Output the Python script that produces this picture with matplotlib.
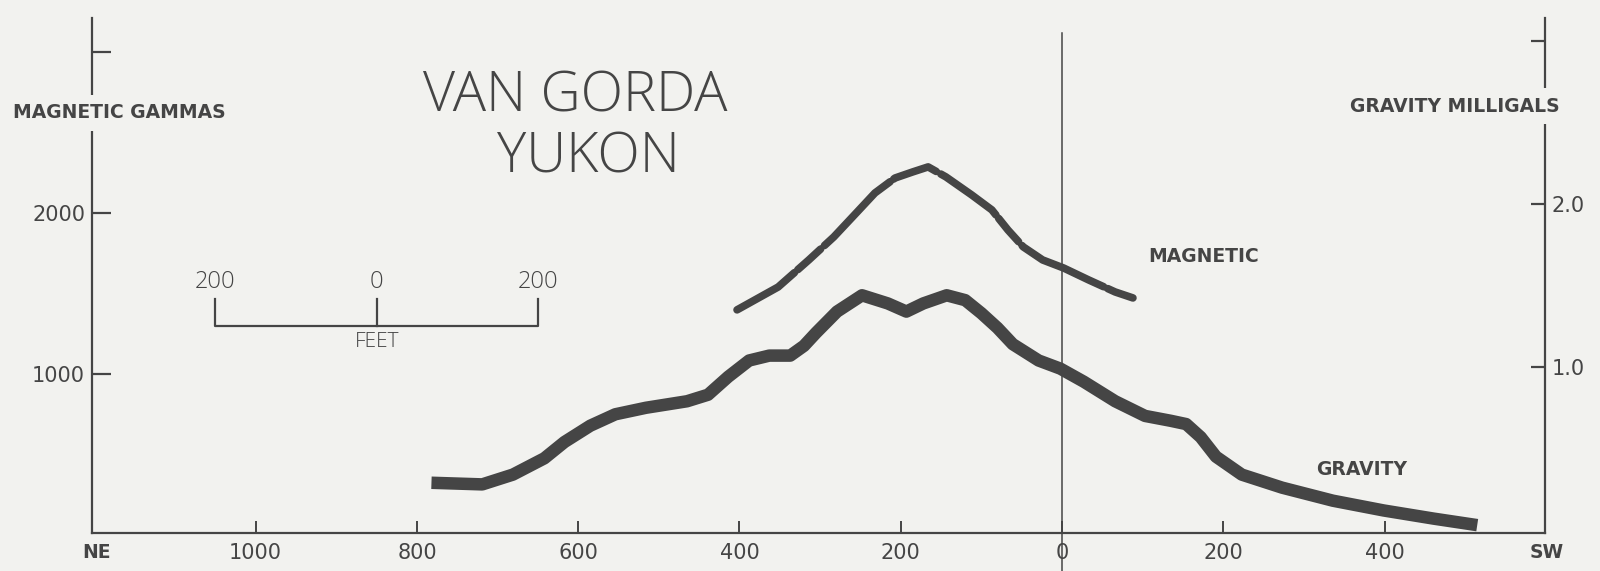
import matplotlib.pyplot as plt

# profile distance in feet (NE side negative, SW side positive)
grav_x = [-782, -719, -681, -642, -617, -585, -554, -516, -465, -439, -414, -388,
          -363, -337, -320, -305, -279, -248, -216, -193, -172, -143, -120, -100,
          -80, -61, -29, -2, 27, 66, 103, 135, 154, 172, 191, 223, 273, 336, 399,
          461, 515]
grav_mgal = [0.29, 0.28, 0.34, 0.44, 0.54, 0.64, 0.71, 0.75, 0.79, 0.83, 0.94, 1.04,
             1.07, 1.07, 1.13, 1.21, 1.34, 1.44, 1.39, 1.34, 1.39, 1.44, 1.41, 1.33,
             1.24, 1.14, 1.04, 0.99, 0.91, 0.79, 0.70, 0.67, 0.65, 0.57, 0.45, 0.34,
             0.26, 0.18, 0.12, 0.07, 0.03]

mag_x = [-403, -352, -314, -283, -254, -232, -207, -185, -166, -144, -112, -87,
         -67, -48, -24, 2, 33, 66, 88]
mag_gammas = [1398, 1540, 1708, 1851, 2006, 2124, 2217, 2255, 2286, 2224, 2112, 2019,
              1894, 1789, 1708, 1658, 1584, 1509, 1472]

xticks = [-1000, -800, -600, -400, -200, 0, 200, 400]
xlabels = ['1000', '800', '600', '400', '200', '0', '200', '400']
mag_ticks = [1000, 2000, 3000]
mag_labels = ['1000', '2000', '']
grav_ticks = [1.0, 2.0, 3.0]
grav_labels = ['1.0', '2.0', '']

bg = '#f2f2ef'
ink = '#454545'
thin = ['Open Sans', 'DejaVu Sans']

fig = plt.figure(figsize=(16, 5.71), dpi=100, facecolor=bg)
ax = fig.add_axes([0.0575, 0.0666, 0.9081, 0.9019])
ax.set_facecolor(bg)
ax2 = ax.twinx()

ax.set_xlim(-1203, 599)
ax.set_ylim(12, 3211)
ax2.set_ylim(-0.018, 3.141)

for s in ['top', 'right']:
    ax.spines[s].set_visible(False)
for s in ['top', 'left', 'bottom']:
    ax2.spines[s].set_visible(False)
for s in ['left', 'bottom']:
    ax.spines[s].set_color(ink)
    ax.spines[s].set_linewidth(1.6)
ax2.spines['right'].set_color(ink)
ax2.spines['right'].set_linewidth(1.6)

ax.set_xticks(xticks)
ax.set_xticklabels(xlabels)
ax.set_yticks(mag_ticks)
ax.set_yticklabels(mag_labels)
ax2.set_yticks(grav_ticks)
ax2.set_yticklabels(grav_labels)
ax.tick_params(axis='x', direction='in', length=9, width=1.4, pad=7,
               labelsize=15, colors=ink)
ax.tick_params(axis='y', direction='in', length=14, width=1.6, pad=5,
               labelsize=15, colors=ink)
ax2.tick_params(axis='y', direction='in', length=10, width=1.6, pad=5,
                labelsize=15, colors=ink)

# curves
ax.plot(mag_x, mag_gammas, color=ink, lw=5.5, dashes=[9, 0.6, 4, 0.7, 12, 0.6, 6, 0.7],
        dash_capstyle='round', solid_joinstyle='round')
ax2.plot(grav_x, grav_mgal, color=ink, lw=9, solid_capstyle='butt',
         solid_joinstyle='round')

# zero line
ax.plot([0, 0], [3118, -224], color=ink, lw=1.1, clip_on=False)

# scale bar
c = -850
ax.plot([c - 200, c - 200, c + 200, c + 200], [1466, 1298, 1298, 1466],
        color=ink, lw=1.6)
ax.plot([c, c], [1298, 1466], color=ink, lw=1.6)
for xv, t in [(c - 200, '200'), (c, '0'), (c + 200, '200')]:
    ax.text(xv, 1571, t, ha='center', va='center', fontsize=17, color=ink,
            family=thin, fontweight='light')
ax.text(c, 1199, 'FEET', ha='center', va='center', fontsize=15, color=ink,
        family=thin, fontweight='light')

# title
fig.text(575 / 1600, 1 - 97 / 571, 'VAN GORDA', ha='center', va='center',
         fontsize=40, color=ink, family=thin, fontweight='light')
fig.text(588 / 1600, 1 - 158 / 571, 'YUKON', ha='center', va='center',
         fontsize=40, color=ink, family=thin, fontweight='light')

# axis labels, cutting the spines
box = dict(boxstyle='square,pad=0.45', fc=bg, ec='none')
fig.text(13 / 1600, 1 - 113 / 571, 'MAGNETIC GAMMAS', ha='left', va='center',
         fontsize=13.5, fontweight='bold', color=ink, bbox=box)
fig.text(1560 / 1600, 1 - 106 / 571, 'GRAVITY MILLIGALS', ha='right', va='center',
         fontsize=13.5, fontweight='bold', color=ink, bbox=box)

ax.text(176, 1727, 'MAGNETIC', ha='center', va='center', fontsize=13.5,
        fontweight='bold', color=ink)
ax2.text(372, 0.374, 'GRAVITY', ha='center', va='center', fontsize=13.5,
         fontweight='bold', color=ink)

ax.text(-1197, -0.037, 'NE', transform=ax.get_xaxis_transform(), ha='center',
        va='center', fontsize=13.5, fontweight='bold', color=ink)
ax.text(601, -0.037, 'SW', transform=ax.get_xaxis_transform(), ha='center',
        va='center', fontsize=13.5, fontweight='bold', color=ink)

fig.savefig('out.png', dpi=100, facecolor=bg)
